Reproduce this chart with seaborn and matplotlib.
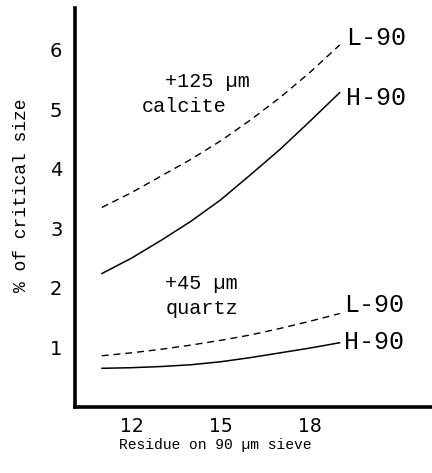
import matplotlib
matplotlib.use("Agg")
import matplotlib.pyplot as plt
import seaborn as sns
import pandas as pd

# Residue on 90 um sieve (x) and % of critical size for each product
residue = [11, 12, 13, 14, 15, 16, 17, 18, 19]
calcite_L90 = [3.35, 3.60, 3.88, 4.16, 4.47, 4.82, 5.20, 5.62, 6.08]
calcite_H90 = [2.24, 2.50, 2.80, 3.12, 3.48, 3.90, 4.33, 4.80, 5.28]
quartz_L90 = [0.86, 0.91, 0.97, 1.04, 1.12, 1.21, 1.32, 1.44, 1.57]
quartz_H90 = [0.65, 0.66, 0.68, 0.71, 0.76, 0.83, 0.91, 0.99, 1.08]

x_ticks = [12, 15, 18]
y_ticks = [1, 2, 3, 4, 5, 6]

sns.set_theme(style="white")
plt.rcParams["font.family"] = ["Liberation Mono", "DejaVu Sans Mono"]

fig = plt.figure(figsize=(4.32, 4.73), dpi=100)
ax = fig.add_axes([0.1736, 0.1395, 0.8264, 0.8436])

dashed = (0, (5, 3.5))
series = [
    (calcite_L90, dashed, 1.0),
    (calcite_H90, "-", 1.1),
    (quartz_L90, dashed, 1.0),
    (quartz_H90, "-", 1.1),
]
for vals, ls, lw in series:
    df = pd.DataFrame({"residue": residue, "pct": vals})
    sns.lineplot(data=df, x="residue", y="pct", ax=ax, color="black",
                 linestyle=ls, linewidth=lw)

ax.set_xlim(10.1, 22.1)
ax.set_ylim(0, 6.7)
ax.set_xticks(x_ticks)
ax.set_yticks(y_ticks)
ax.set_xticklabels([str(v) for v in x_ticks], fontsize=13.5, family="DejaVu Sans")
ax.set_yticklabels([str(v) for v in y_ticks], fontsize=14, family="DejaVu Sans")
ax.tick_params(axis="both", direction="in", length=6, width=1.0, colors="black")
ax.tick_params(axis="y", pad=9)
ax.tick_params(axis="x", pad=7)

for side in ("top", "right"):
    ax.spines[side].set_visible(False)
for side in ("left", "bottom"):
    ax.spines[side].set_linewidth(2.6)
    ax.spines[side].set_color("black")

ax.set_xlabel("Residue on 90 \u00b5m sieve", fontsize=10.5, color="black")
ax.xaxis.set_label_coords(0.392, -0.078)
ax.xaxis.label.set_va("top")
ax.set_ylabel("% of critical size", fontsize=13, color="black")
ax.yaxis.set_label_coords(-0.125, 0.531)

txt = dict(fontsize=14.5, color="black", va="center", ha="left")
ax.text(13.14, 5.46, "+125 \u00b5m", **txt)
ax.text(12.34, 5.04, "calcite", **txt)
ax.text(13.14, 2.07, "+45 \u00b5m", **txt)
ax.text(13.14, 1.66, "quartz", **txt)

lab = dict(fontsize=18, color="black", va="center", ha="left")
ax.text(19.2, 6.2, "L-90", **lab)
ax.text(19.2, 5.19, "H-90", **lab)
ax.text(19.15, 1.71, "L-90", **lab)
ax.text(19.15, 1.09, "H-90", **lab)

fig.savefig("out.png", dpi=100)
